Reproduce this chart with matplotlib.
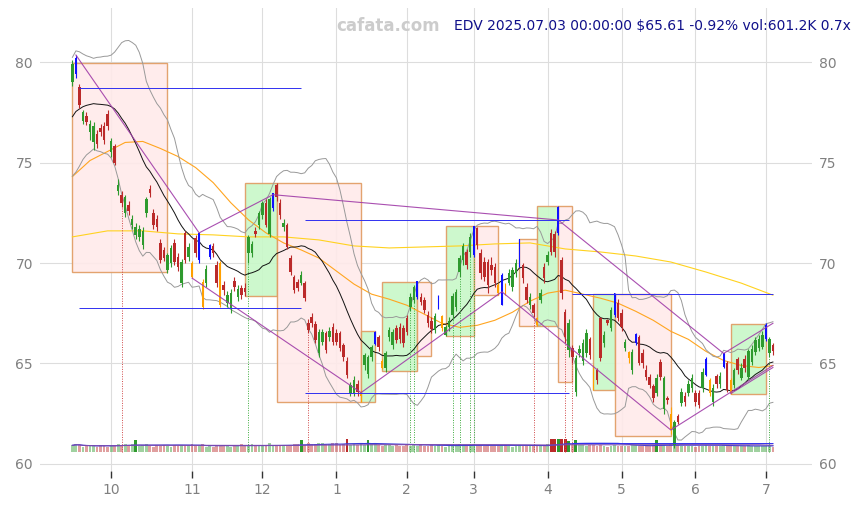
import matplotlib
matplotlib.use("Agg")
import matplotlib.pyplot as plt
from matplotlib.colors import to_rgba
from matplotlib.patches import Rectangle
import numpy as np
import pandas as pd

# --- data -----------------------------------------------------------------
HOLIDAYS = ["2024-11-28", "2024-12-25", "2025-01-01", "2025-01-09", "2025-01-20",
            "2025-02-17", "2025-04-18", "2025-05-26", "2025-06-19"]

opens = [
    79.0, 79.4, 78.75, 77.05, 77.3, 76.5, 76.0, 76.4, 76.7, 76.8,
    77.4, 75.5, 75.8, 73.6, 73.4, 72.5, 72.9, 71.9, 71.4, 71.3,
    70.9, 72.5, 73.7, 72.5, 72.2, 71.0, 70.65, 69.65, 70.0, 71.0,
    70.3, 69.0, 71.5, 70.3, 70.0, 71.25, 70.15, 69.05, 69.0, 70.3,
    70.85, 69.9, 70.0, 68.9, 68.0, 67.75, 69.1, 68.3, 68.75, 68.75,
    70.5, 70.5, 71.6, 71.9, 72.4, 73.0, 71.45, 72.75, 73.9, 73.0,
    71.8, 71.9, 70.25, 69.3, 69.05, 69.0, 69.0, 67.0, 67.3, 66.95,
    65.5, 66.05, 66.5, 66.3, 66.8, 66.5, 66.5, 65.9, 65.1, 63.55,
    63.55, 64.0, 63.4, 64.9, 64.5, 65.3, 65.95, 66.3, 65.1, 64.8,
    66.3, 65.9, 66.75, 66.8, 66.75, 67.25, 67.8, 68.15, 68.3, 68.3,
    68.15, 67.4, 67.1, 66.65, 67.8, 67.35, 66.4, 66.8, 67.4, 67.8,
    69.55, 70.15, 70.55, 70.55, 70.4, 71.75, 70.5, 70.05, 70.05, 69.9,
    69.8, 68.9, 67.9, 68.9, 69.0, 68.8, 69.5, 69.9, 69.9, 68.8,
    67.9, 67.9, 67.25, 68.15, 69.8, 70.05, 71.5, 71.45, 71.5, 70.15,
    67.55, 65.65, 65.75, 63.6, 65.5, 65.1, 65.5, 66.2, 64.8, 64.7,
    67.25, 66.0, 67.15, 66.75, 67.4, 68.0, 67.5, 65.75, 65.55, 64.7,
    66.0, 66.3, 65.5, 64.7, 64.35, 63.9, 63.55, 65.05, 62.75, 63.3,
    62.5, 60.95, 62.4, 63.05, 63.4, 63.55, 63.8, 63.55, 63.55, 63.8,
    64.45, 64.2, 63.1, 64.4, 64.0, 64.85, 65.0, 64.2, 63.95, 65.2,
    64.3, 65.2, 64.35, 65.05, 65.55, 65.75, 65.8, 66.2, 65.5, 65.9,
]
closes = [
    79.9, 80.2, 77.85, 77.5, 77.0, 76.9, 76.8, 75.9, 76.5, 76.1,
    76.8, 76.05, 75.0, 73.9, 73.0, 73.3, 72.6, 72.2, 71.8, 71.7,
    71.6, 73.2, 73.5, 71.9, 71.8, 70.15, 70.25, 70.4, 70.75, 70.05,
    69.8, 70.05, 70.15, 70.8, 69.3, 70.5, 71.5, 67.8, 69.7, 70.9,
    70.5, 69.0, 67.9, 68.65, 68.4, 68.5, 68.8, 68.7, 68.4, 68.55,
    71.3, 70.95, 71.45, 72.5, 73.0, 71.9, 73.2, 73.5, 73.3, 72.4,
    72.0, 70.8, 69.55, 68.65, 68.75, 69.4, 68.25, 66.65, 67.0, 66.15,
    66.55, 66.55, 65.65, 66.6, 66.05, 66.05, 65.75, 65.3, 64.45, 63.95,
    64.2, 63.6, 63.6, 65.4, 65.3, 65.8, 66.55, 65.8, 64.8, 65.5,
    66.65, 66.55, 66.15, 66.2, 66.0, 66.55, 68.3, 68.8, 69.1, 68.05,
    67.65, 67.0, 66.7, 67.35, 68.35, 66.75, 66.8, 67.1, 68.35, 68.55,
    70.25, 70.85, 69.9, 71.3, 71.85, 70.9, 69.5, 69.3, 68.9, 69.65,
    69.0, 68.5, 69.4, 68.55, 69.5, 69.65, 70.0, 71.2, 69.25, 68.15,
    68.3, 67.5, 66.9, 68.5, 69.25, 70.4, 70.55, 70.55, 72.8, 68.5,
    66.3, 67.0, 65.3, 65.25, 65.7, 66.0, 66.5, 65.4, 63.8, 64.2,
    65.25, 66.4, 67.0, 67.65, 68.5, 67.25, 66.8, 66.05, 65.25, 65.55,
    66.45, 65.0, 65.0, 64.35, 63.95, 63.3, 64.3, 64.35, 64.3, 63.2,
    61.75, 62.1, 62.1, 63.6, 63.1, 64.0, 64.3, 63.1, 62.95, 64.6,
    65.2, 63.55, 63.8, 64.0, 64.4, 65.5, 63.7, 63.55, 64.7, 64.7,
    64.8, 64.8, 65.6, 65.7, 66.15, 66.2, 66.4, 66.9, 66.2, 65.61,
]
highs = [
    80.1, 80.35, 78.9, 77.6, 77.5, 77.1, 77.0, 76.6, 76.9, 77.0,
    77.6, 76.2, 75.9, 74.2, 73.6, 73.4, 73.1, 72.4, 72.0, 71.9,
    71.8, 73.3, 73.9, 72.7, 72.4, 71.2, 70.8, 70.5, 70.9, 71.2,
    70.5, 70.2, 71.6, 71.0, 70.1, 71.4, 71.5, 69.2, 69.9, 70.95,
    71.0, 70.1, 70.1, 69.1, 68.6, 68.7, 69.3, 68.9, 68.9, 69.0,
    71.4, 71.1, 71.8, 72.6, 73.1, 73.2, 73.3, 73.5, 74.0, 73.2,
    72.2, 72.0, 70.4, 69.4, 69.2, 69.6, 69.1, 67.2, 67.5, 67.1,
    66.7, 66.7, 66.6, 66.8, 67.0, 66.7, 66.6, 66.0, 65.3, 64.1,
    64.4, 64.2, 63.7, 65.5, 65.4, 65.9, 66.6, 66.4, 65.2, 65.6,
    66.8, 66.7, 66.9, 67.0, 66.9, 67.4, 68.5, 68.9, 69.1, 68.5,
    68.3, 67.6, 67.3, 67.5, 68.4, 67.4, 66.9, 67.3, 68.5, 68.7,
    70.4, 71.0, 70.7, 71.5, 71.85, 71.8, 70.7, 70.3, 70.2, 70.3,
    70.0, 69.0, 69.5, 69.0, 69.7, 69.8, 70.2, 71.2, 70.0, 69.0,
    68.5, 68.0, 67.3, 68.7, 70.0, 70.6, 71.7, 71.6, 72.85, 70.3,
    67.7, 67.2, 65.9, 65.4, 65.9, 66.2, 66.7, 66.3, 64.9, 64.8,
    67.3, 66.6, 67.2, 67.8, 68.5, 68.2, 67.7, 66.2, 65.6, 65.7,
    66.5, 66.4, 65.7, 64.9, 64.5, 64.0, 64.5, 65.2, 64.4, 63.4,
    62.85, 62.2, 62.5, 63.8, 63.6, 64.2, 64.5, 63.7, 63.7, 64.8,
    65.3, 64.3, 64.0, 64.5, 64.6, 65.5, 65.1, 64.3, 64.8, 65.3,
    65.0, 65.4, 65.7, 65.9, 66.3, 66.4, 66.6, 67.0, 66.3, 66.0,
]
lows = [
    78.8, 79.2, 77.7, 76.9, 76.85, 76.1, 75.6, 75.7, 76.3, 75.9,
    76.6, 75.3, 74.9, 73.4, 72.8, 72.3, 72.4, 71.7, 71.2, 71.1,
    70.7, 72.3, 73.3, 71.7, 71.6, 70.0, 70.1, 69.5, 69.8, 69.9,
    69.6, 68.8, 70.0, 70.1, 69.25, 70.3, 70.0, 67.7, 68.8, 70.2,
    70.3, 68.8, 67.8, 68.4, 67.8, 67.5, 68.6, 68.1, 68.2, 68.35,
    70.0, 70.3, 71.3, 71.7, 72.2, 71.8, 71.3, 72.6, 73.1, 72.2,
    71.6, 70.7, 69.4, 68.5, 68.6, 68.9, 68.1, 66.5, 66.8, 66.0,
    65.3, 65.9, 65.5, 66.1, 65.9, 65.9, 65.6, 65.1, 64.3, 63.4,
    63.4, 63.4, 63.1, 64.7, 64.3, 65.1, 65.9, 65.6, 64.75, 64.6,
    66.1, 65.7, 66.0, 66.0, 65.8, 66.4, 67.6, 68.0, 68.2, 67.9,
    67.5, 66.8, 66.5, 66.5, 67.7, 66.6, 66.37, 66.6, 67.2, 67.6,
    69.3, 69.9, 69.7, 70.3, 70.3, 70.7, 69.2, 69.1, 68.5, 69.4,
    68.8, 68.4, 67.9, 68.4, 68.9, 68.6, 69.3, 69.8, 69.0, 68.0,
    67.7, 67.3, 66.85, 68.0, 69.0, 69.9, 70.4, 70.3, 71.4, 68.2,
    66.0, 65.3, 65.0, 63.4, 65.3, 64.9, 65.3, 65.2, 63.7, 64.0,
    65.1, 65.8, 66.9, 66.6, 67.3, 67.1, 66.6, 65.6, 65.0, 64.5,
    65.9, 64.9, 64.8, 64.2, 63.8, 63.1, 63.4, 64.2, 62.5, 63.0,
    61.5, 60.8, 62.0, 62.9, 62.9, 63.4, 63.6, 62.9, 62.8, 63.6,
    64.4, 63.4, 62.9, 63.8, 63.8, 64.8, 63.6, 63.5, 63.8, 64.5,
    64.2, 64.6, 64.2, 64.9, 65.4, 65.6, 65.7, 66.1, 65.3, 65.4,
]
# volume, thousands of shares
volumes = [
    820, 950, 880, 640, 700, 760, 690, 620, 840, 720, 660, 900, 810, 1020, 860, 980, 790, 1000, 1500, 740,
    860, 940, 700, 650, 900, 720, 840, 760, 610, 880, 740, 820, 700, 860, 990, 720, 800, 930, 660, 760,
    630, 830, 720, 880, 760, 650, 800, 720, 950, 690, 840, 1020, 740, 680, 900, 820, 1060, 760, 860, 700,
    740, 900, 800, 1040, 960, 1480, 850, 1080, 940, 980, 1100, 1160, 960, 1030, 1100, 1050, 880, 990, 1550, 860,
    1020, 920, 980, 860, 1450, 960, 1010, 840, 740, 860, 800, 720, 880, 760, 700, 840, 680, 980, 740, 950,
    780, 700, 820, 690, 860, 740, 660, 720, 880, 800, 940, 900, 760, 870, 990, 820, 900, 760, 840, 720,
    700, 780, 920, 830, 700, 660, 740, 880, 790, 720, 760, 820, 700, 680, 860, 940, 1600, 1550, 1650, 1600,
    1550, 1400, 880, 1500, 920, 860, 780, 820, 900, 760, 880, 700, 660, 740, 820, 760, 700, 680, 740, 800,
    880, 760, 700, 820, 740, 860, 1450, 920, 880, 760, 980, 1100, 840, 760, 700, 680, 740, 660, 720, 780,
    860, 740, 700, 760, 680, 820, 900, 760, 700, 740, 680, 720, 800, 760, 700, 740, 680, 780, 860, 601.2,
]
# closes of the 19 sessions before the first bar (feed the 20-day bands)
prior_closes = [74.95, 75.35, 75.25, 75.65, 76.05, 75.95, 76.35, 76.75, 76.55, 77.15,
                77.45, 77.35, 77.95, 78.35, 78.15, 78.75, 79.15, 78.95, 79.55]

ma_orange_idx = list(range(0, 200, 5)) + [199]
ma_orange = [74.3, 75.1, 75.55, 76.0, 76.05, 75.7, 75.3, 74.75, 74.0, 73.0,
             72.15, 71.5, 71.0, 70.65, 70.25, 69.6, 68.95, 68.45, 68.2, 67.9,
             67.45, 67.0, 66.8, 66.9, 67.15, 67.55, 68.1, 68.5, 68.65, 68.45,
             68.25, 68.0, 67.6, 67.15, 66.6, 66.2, 65.6, 65.15, 64.9, 64.8, 64.9]
ma_yellow_idx = list(range(0, 200, 10)) + [199]
ma_yellow = [71.3, 71.6, 71.6, 71.45, 71.4, 71.3, 71.3, 71.15, 70.85, 70.75,
             70.8, 70.85, 70.95, 71.0, 70.7, 70.55, 70.35, 70.05, 69.55, 69.0, 68.4]

blue_idx = [1, 36, 39, 57, 86, 98, 104, 114, 122, 127, 138, 154, 160, 180, 185, 197]
orange_idx = [34, 37, 42, 82, 88, 105, 121, 123, 132, 148, 158, 170, 181, 187]

box_start = [0, 49, 58, 82, 88, 98, 106, 114, 127, 132, 138, 148, 154, 187]
box_end = [27, 58, 82, 86, 98, 102, 114, 121, 132, 138, 142, 154, 170, 197]
box_low = [69.55, 68.35, 63.1, 63.1, 64.64, 65.35, 66.37, 68.4, 66.87, 66.87, 64.1, 63.68, 61.4, 63.47]
box_high = [79.95, 74.0, 74.0, 66.6, 69.07, 69.07, 71.84, 71.84, 71.18, 72.84, 72.84, 68.46, 68.46, 66.95]
box_up = [False, True, False, True, True, False, True, False, False, True, False, True, False, True]

zz_hi_idx = [1, 36, 57, 138, 185, 199]
zz_hi_val = [80.35, 71.5, 73.4, 72.14, 65.5, 67.0]
zz_lo_idx = [34, 82, 122, 170, 199]
zz_lo_val = [69.25, 63.55, 68.57, 61.69, 64.9]
zz_tail_idx = [187, 199]
zz_tail_val = [63.5, 64.8]

hl_start = [2, 2, 66, 66, 142, 142]
hl_end = [65, 65, 141, 141, 199, 199]
hl_val = [78.7, 67.76, 72.14, 63.53, 68.46, 61.05]

sig_red = [14, 67, 131, 140, 142]
sig_green = [50, 96, 97, 108, 110, 113, 114, 198]

TITLE = "EDV 2025.07.03 00:00:00 $65.61 -0.92% vol:601.2K 0.7x"

# --- styles ---------------------------------------------------------------
UP = "#2e9a2e"
DOWN = "#bb2a2a"
VOL_BASE = 60.6
VOL_SCALE = 0.0004


def main():
    dates = pd.bdate_range("2024-09-16", "2025-07-03")
    dates = dates[~dates.isin(pd.to_datetime(HOLIDAYS))]
    n = len(closes)
    dates = dates[:n]
    x = np.arange(n)
    o = np.array(opens); c = np.array(closes)
    h = np.array(highs); lo = np.array(lows)
    v = np.array(volumes, dtype=float)

    full = pd.Series(prior_closes + closes)
    mid = full.rolling(20).mean().iloc[len(prior_closes):].to_numpy()
    sd = full.rolling(20).std(ddof=0).iloc[len(prior_closes):].to_numpy()

    fig = plt.figure(figsize=(8.61, 5.05), dpi=100)
    ax = fig.add_axes([40 / 861, 1 - 471 / 505, 772 / 861, 463 / 505])
    ax.set_xlim(-9.2, 210.1)
    ax.set_ylim(59.65, 82.69)
    for s in ax.spines.values():
        s.set_visible(False)
    ax.grid(True, color="#dddddd", lw=0.8)
    ax.set_axisbelow(True)

    # boxes
    for s0, s1, b0, b1, up in zip(box_start, box_end, box_low, box_high, box_up):
        face = "#c8f8c8" if up else "#ffeaea"
        ax.add_patch(Rectangle((s0, b0), s1 - s0, b1 - b0, facecolor=face,
                               edgecolor="#e09a60", lw=1.0, alpha=0.9, zorder=1))

    # averages and bands
    ax.plot(ma_yellow_idx, ma_yellow, color="#ffd21f", lw=0.8, zorder=2)
    ax.plot(ma_orange_idx, ma_orange, color="#ffa520", lw=0.8, zorder=2)
    ax.plot(x, mid + 2 * sd, color="#999999", lw=0.7, zorder=2)
    ax.plot(x, mid - 2 * sd, color="#999999", lw=0.7, zorder=2)
    ax.plot(x, mid, color="#111111", lw=0.7, zorder=2)

    # volume
    vma = pd.Series(v).rolling(20, min_periods=1).mean().to_numpy()
    vma2 = pd.Series(v).rolling(60, min_periods=1).mean().to_numpy()
    vcol = []
    for i in range(n):
        base = UP if c[i] >= o[i] else DOWN
        vcol.append(to_rgba(base, 1.0 if v[i] > 1.35 * vma2[i] else 0.45))
    ax.bar(x, v * VOL_SCALE, bottom=VOL_BASE, width=0.8, color=vcol, zorder=2)
    ax.plot(x, VOL_BASE + vma * VOL_SCALE, color="#3a3ad8", lw=0.8, zorder=3)
    ax.plot(x, VOL_BASE + vma2 * VOL_SCALE, color="#7a4ab0", lw=0.8, zorder=3)

    # signal lines
    ax.vlines(sig_red, VOL_BASE, lo[sig_red], colors="#d04848", lw=0.7,
              linestyles=(0, (1, 1.5)), zorder=2)
    ax.vlines(sig_green, VOL_BASE, lo[sig_green], colors="#3aaa3a", lw=0.7,
              linestyles=(0, (1, 1.5)), zorder=2)

    # candles
    col = np.where(c >= o, UP, DOWN).astype(object)
    width = np.full(n, 0.72)
    for i in blue_idx:
        col[i] = "#1010ff"; width[i] = 0.5
    for i in orange_idx:
        col[i] = "#ffa000"; width[i] = 0.5
    ax.vlines(x, lo, h, colors=list(col), lw=0.8, zorder=3)
    body = np.maximum(np.abs(c - o), 0.06)
    ax.bar(x, body, bottom=np.minimum(o, c), width=width, color=list(col), zorder=4)

    # zigzags and levels
    zz = dict(color="#a03ca8", lw=0.8, alpha=0.9, zorder=5)
    ax.plot(zz_hi_idx, zz_hi_val, **zz)
    ax.plot(zz_lo_idx, zz_lo_val, **zz)
    ax.plot(zz_tail_idx, zz_tail_val, **zz)
    ax.hlines(hl_val, hl_start, hl_end, colors="#3030f0", lw=0.7, zorder=5)

    # axes
    ticks = [i for i in range(1, n) if dates[i].month != dates[i - 1].month]
    ax.set_xticks(ticks)
    ax.set_xticklabels([str(dates[i].month) for i in ticks])
    ax.set_yticks([60, 65, 70, 75, 80])
    ax.tick_params(axis="x", length=5, width=1, color="#333333",
                   labelcolor="#808080", labelsize=10, pad=4)
    ax.tick_params(axis="y", length=0, labelcolor="#808080", labelsize=10,
                   labelleft=True, labelright=True, pad=5)

    fig.text(440 / 861, 1 - 26 / 505, "cafata.com", ha="right", va="center",
             fontsize=12, fontweight="bold", color="#cccccc")
    fig.text(851 / 861, 1 - 26 / 505, TITLE, ha="right", va="center",
             fontsize=10, color="#10108a")

    fig.savefig("out.png", dpi=100)


if __name__ == "__main__":
    main()
